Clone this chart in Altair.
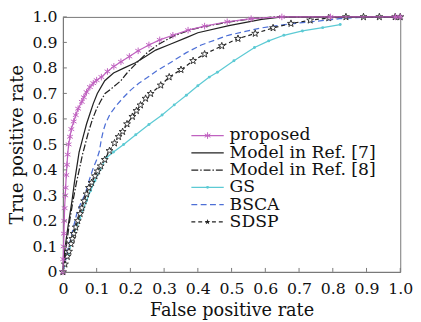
import altair as alt
import pandas as pd

series_names = ["proposed", "Model in Ref. [7]", "Model in Ref. [8]", "GS", "BSCA", "SDSP"]
tick_values = [0.0, 0.1, 0.2, 0.3, 0.4, 0.5, 0.6, 0.7, 0.8, 0.9, 1.0]

proposed_fpr = [0.0, 0.001, 0.002, 0.003, 0.004, 0.005, 0.007, 0.008, 0.010, 0.012,
                0.014, 0.017, 0.021, 0.025, 0.032, 0.038, 0.045, 0.056, 0.062, 0.070,
                0.080, 0.090, 0.100, 0.114, 0.132, 0.151, 0.172, 0.197, 0.223, 0.255,
                0.287, 0.326, 0.371, 0.420, 0.487, 0.558, 0.649, 0.793, 0.986, 1.0]
proposed_tpr = [0.0, 0.05, 0.10, 0.15, 0.20, 0.25, 0.30, 0.33, 0.38, 0.42,
                0.46, 0.50, 0.53, 0.56, 0.59, 0.615, 0.64, 0.667, 0.685, 0.705,
                0.725, 0.74, 0.752, 0.764, 0.786, 0.806, 0.824, 0.845, 0.867, 0.89,
                0.91, 0.928, 0.948, 0.964, 0.981, 0.993, 1.0, 1.0, 1.0, 1.0]

ref7_fpr = [0.0, 0.005, 0.012, 0.020, 0.027, 0.034, 0.041, 0.048, 0.056, 0.062,
            0.070, 0.080, 0.090, 0.102, 0.124, 0.150, 0.182, 0.215, 0.245, 0.275,
            0.318, 0.366, 0.400, 0.492, 0.589, 0.650, 1.0]
ref7_tpr = [0.0, 0.08, 0.15, 0.22, 0.28, 0.35, 0.41, 0.47, 0.51, 0.54,
            0.58, 0.62, 0.66, 0.70, 0.75, 0.78, 0.80, 0.82, 0.845, 0.87,
            0.893, 0.919, 0.938, 0.966, 0.99, 1.0, 1.0]

ref8_fpr = [0.0, 0.010, 0.020, 0.030, 0.040, 0.050, 0.058, 0.066, 0.076, 0.088,
            0.100, 0.112, 0.125, 0.145, 0.172, 0.190, 0.211, 0.250, 0.284, 0.328,
            0.380, 0.430, 0.490, 0.560, 0.630, 1.0]
ref8_tpr = [0.0, 0.10, 0.20, 0.28, 0.35, 0.41, 0.46, 0.50, 0.55, 0.60,
            0.64, 0.67, 0.70, 0.72, 0.75, 0.78, 0.809, 0.86, 0.893, 0.925,
            0.95, 0.965, 0.98, 0.993, 1.0, 1.0]

gs_fpr = [0.0, 0.005, 0.010, 0.017, 0.024, 0.032, 0.041, 0.050, 0.060, 0.070,
          0.082, 0.095, 0.110, 0.128, 0.150, 0.180, 0.216, 0.255, 0.294, 0.330,
          0.366, 0.400, 0.434, 0.458, 0.507, 0.568, 0.610, 0.655, 0.710, 0.770,
          0.822]
gs_tpr = [0.0, 0.03, 0.055, 0.072, 0.11, 0.15, 0.176, 0.21, 0.245, 0.279,
          0.318, 0.357, 0.40, 0.447, 0.47, 0.50, 0.538, 0.578, 0.615, 0.655,
          0.693, 0.73, 0.764, 0.783, 0.828, 0.88, 0.906, 0.928, 0.945, 0.958,
          0.97]

bsca_fpr = [0.0, 0.008, 0.015, 0.022, 0.032, 0.041, 0.053, 0.066, 0.078, 0.090,
            0.100, 0.108, 0.114, 0.120, 0.126, 0.140, 0.160, 0.180, 0.200, 0.225,
            0.250, 0.280, 0.308, 0.366, 0.410, 0.490, 0.589, 0.676, 0.750, 0.820,
            0.900, 1.0]
bsca_tpr = [0.0, 0.05, 0.09, 0.124, 0.18, 0.228, 0.27, 0.305, 0.36, 0.408,
            0.44, 0.473, 0.52, 0.555, 0.58, 0.62, 0.655, 0.685, 0.712, 0.74,
            0.762, 0.79, 0.812, 0.86, 0.89, 0.928, 0.957, 0.973, 0.983, 0.993,
            1.0, 1.0]

sdsp_fpr = [0.0, 0.006, 0.013, 0.018, 0.024, 0.028, 0.032, 0.038, 0.044, 0.051,
            0.056, 0.063, 0.070, 0.077, 0.085, 0.095, 0.103, 0.112, 0.124, 0.138,
            0.153, 0.165, 0.177, 0.190, 0.206, 0.218, 0.230, 0.245, 0.260, 0.290,
            0.315, 0.350, 0.386, 0.420, 0.471, 0.519, 0.570, 0.623, 0.676, 0.733,
            0.788, 0.839, 0.891, 0.938, 0.985, 1.0]
sdsp_tpr = [0.0, 0.03, 0.06, 0.08, 0.11, 0.13, 0.15, 0.175, 0.20, 0.228,
            0.25, 0.278, 0.305, 0.33, 0.35, 0.376, 0.395, 0.415, 0.44, 0.475,
            0.505, 0.53, 0.55, 0.58, 0.609, 0.632, 0.654, 0.68, 0.699, 0.732,
            0.764, 0.793, 0.828, 0.854, 0.886, 0.915, 0.935, 0.957, 0.974, 0.987,
            0.996, 1.0, 1.0, 1.0, 1.0, 1.0]

FONT = "DejaVu Serif"
TXT = "#111111"
AX = "#777777"

MAGENTA = "#c062c0"
BLACK = "#222222"
CYAN = "#5ccad4"
BLUE = "#4d6fd6"

ASTERISK = "M0,-1L0,1M-0.866,-0.5L0.866,0.5M-0.866,0.5L0.866,-0.5"
STAR = ("M0,-1L0.235,-0.324L0.951,-0.309L0.380,0.124L0.588,0.809L0,0.4"
        "L-0.588,0.809L-0.380,0.124L-0.951,-0.309L-0.235,-0.324Z")

W, H = 344, 260

label_expr = "datum.value == 0 ? '0' : format(datum.value, '.1f')"

xscale = alt.Scale(domain=[0, 1], nice=False, zero=False)
yscale = alt.Scale(domain=[0, 1], nice=False, zero=False)
x_axis = alt.Axis(values=tick_values, labelExpr=label_expr, title="False positive rate",
                  orient="bottom",
                  labelFont=FONT, labelFontSize=16, titleFont=FONT, titleFontSize=18,
                  titleFontWeight="normal", labelColor=TXT, titleColor=TXT,
                  ticks=False, grid=False, domainColor=AX, labelPadding=9,
                  titlePadding=5, labelFlush=False)
y_axis = alt.Axis(values=tick_values, labelExpr=label_expr, title="True positive rate",
                  orient="left",
                  labelFont=FONT, labelFontSize=16, titleFont=FONT, titleFontSize=18,
                  titleFontWeight="normal", labelColor=TXT, titleColor=TXT,
                  ticks=False, grid=False, domainColor=AX, labelPadding=6,
                  titlePadding=6, labelFlush=False)
x_enc = alt.X("fpr:Q", scale=xscale, axis=x_axis)
y_enc = alt.Y("tpr:Q", scale=yscale, axis=y_axis)


def frame(fpr, tpr):
    return pd.DataFrame({"fpr": fpr, "tpr": tpr, "i": list(range(len(fpr)))})


def curve(df, color, dash=None, width=1.25):
    kw = dict(color=color, strokeWidth=width)
    if dash:
        kw["strokeDash"] = dash
    return alt.Chart(df).mark_line(**kw).encode(x=x_enc, y=y_enc, order="i:Q")


d_prop = frame(proposed_fpr, proposed_tpr)
d_r7 = frame(ref7_fpr, ref7_tpr)
d_r8 = frame(ref8_fpr, ref8_tpr)
d_gs = frame(gs_fpr, gs_tpr)
d_bs = frame(bsca_fpr, bsca_tpr)
d_sd = frame(sdsp_fpr, sdsp_tpr)

layers = [
    curve(d_gs, CYAN),
    alt.Chart(d_gs).mark_point(shape="circle", filled=True, color=CYAN, size=9, opacity=1).encode(x=x_enc, y=y_enc),
    curve(d_bs, BLUE, [6, 3.5]),
    curve(d_sd, BLACK, [4, 3]),
    alt.Chart(d_sd).mark_point(shape=STAR, filled=True, fill="white", stroke=BLACK,
                               strokeWidth=0.9, size=55, opacity=1).encode(x=x_enc, y=y_enc),
    curve(d_r8, BLACK, [7, 2, 1.5, 2]),
    curve(d_r7, BLACK),
    curve(d_prop, MAGENTA),
    alt.Chart(d_prop).mark_point(shape=ASTERISK, filled=False, color=MAGENTA, strokeWidth=1,
                                 size=45, opacity=1).encode(x=x_enc, y=y_enc),
]

# inward ticks
xt = pd.DataFrame({"fpr": tick_values})
yt = pd.DataFrame({"tpr": tick_values})
layers.append(alt.Chart(xt).mark_rule(color=AX, strokeWidth=1).encode(
    x=x_enc, y=alt.value(H), y2=alt.value(H - 4)))
layers.append(alt.Chart(yt).mark_rule(color=AX, strokeWidth=1).encode(
    y=y_enc, x=alt.value(0), x2=alt.value(4)))

# legend (drawn inside the plot area)
legend_df = pd.DataFrame({"label": series_names})
row0, step = 121, 17.6
styles = [
    (MAGENTA, None, "asterisk"),
    (BLACK, None, None),
    (BLACK, [7, 2, 1.5, 2], None),
    (CYAN, None, "dot"),
    (BLUE, [6, 3.5], None),
    (BLACK, [4, 3], "star"),
]
for i, (col, dash, mk) in enumerate(styles):
    sub = legend_df.iloc[[i]]
    yy = alt.value(row0 + i * step)
    kw = dict(color=col, strokeWidth=1.2)
    if dash:
        kw["strokeDash"] = dash
    layers.append(alt.Chart(sub).mark_rule(**kw).encode(
        x=alt.value(131), x2=alt.value(164), y=yy))
    if mk == "asterisk":
        m = alt.Chart(sub).mark_point(shape=ASTERISK, filled=False, color=col, strokeWidth=1, size=45, opacity=1)
    elif mk == "dot":
        m = alt.Chart(sub).mark_point(shape="circle", filled=True, color=col, size=9, opacity=1)
    elif mk == "star":
        m = alt.Chart(sub).mark_point(shape=STAR, filled=True, color=col, size=35, opacity=1)
    else:
        m = None
    if m is not None:
        layers.append(m.encode(x=alt.value(147.5), y=yy))
    layers.append(alt.Chart(sub).mark_text(align="left", baseline="middle", font=FONT,
                                           fontSize=17.5, color=TXT).encode(
        x=alt.value(170), y=yy, text="label:N"))

chart = alt.layer(*layers).properties(
    width=W, height=H,
    padding={"left": 56, "top": 6, "right": 13, "bottom": 48},
    autosize=alt.AutoSizeParams(type="none"),
).configure_view(stroke=AX, strokeWidth=1)

chart.save("out.html", embed_options={"renderer": "svg", "actions": False})
